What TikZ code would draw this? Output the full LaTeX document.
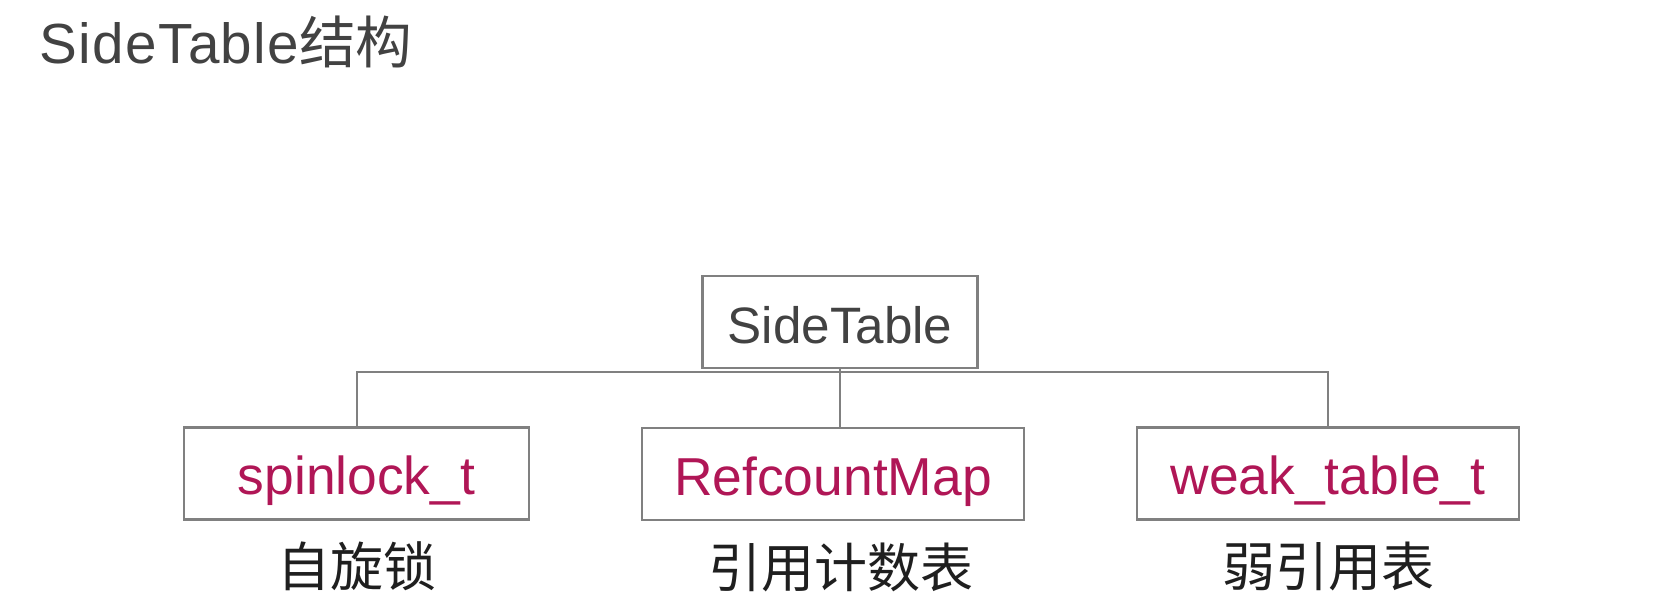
\documentclass[tikz,border=0pt]{standalone}
\usepackage{fontspec}
\setmainfont{Liberation Sans}
\newfontfamily\cjk{Noto Sans CJK SC}
\usepackage{tikz}
\usetikzlibrary{positioning}
\definecolor{linegray}{RGB}{128,128,128}
\definecolor{typepink}{RGB}{176,22,86}
\definecolor{titlegray}{RGB}{66,66,66}

\begin{document}
\begin{tikzpicture}[x=0.5pt,y=-0.5pt]
\tikzstyle{box}=[draw=linegray,line width=1.1pt,minimum height=46pt,text height=21pt,text depth=0pt,text=typepink,font=\fontsize{26.7}{30}\selectfont]
\tikzstyle{note}=[inner sep=0pt,text=black!88,font=\cjk\fontsize{26.5}{30}\selectfont]
\tikzstyle{link}=[draw=linegray,line width=1pt]
\useasboundingbox (0,0) rectangle (1664,600);
\node[anchor=base west,inner sep=0pt,text=titlegray,font=\fontsize{28.3}{32}\selectfont\addfontfeature{LetterSpace=2.5}] (title) at (39,63) {SideTable{\cjk 结构}};
\node[box,text=titlegray,minimum width=137.5pt,font=\fontsize{25.6}{30}\selectfont] (side) at (840,322) {SideTable};
\node[box,minimum width=172.5pt] (lock) at (356.5,473.5) {spinlock\_t};
\node[box,minimum width=191pt] (map) at (833,474) {RefcountMap};
\node[box,minimum width=191pt] (weak) at (1328,473.5) {weak\_table\_t};
\node[note,below=10.5pt of lock] (lockcn) {自旋锁};
\node[note,below=10.5pt of map,xshift=4pt] (mapcn) {引用计数表};
\node[note,below=10.5pt of weak] (weakcn) {弱引用表};
\coordinate (bus) at (840,372);
\draw[link] (lock.north) -- (lock.north |- bus) -- (weak.north |- bus) -- (weak.north);
\draw[link] (side.south) -- (side.south |- map.north);
\end{tikzpicture}
\end{document}
